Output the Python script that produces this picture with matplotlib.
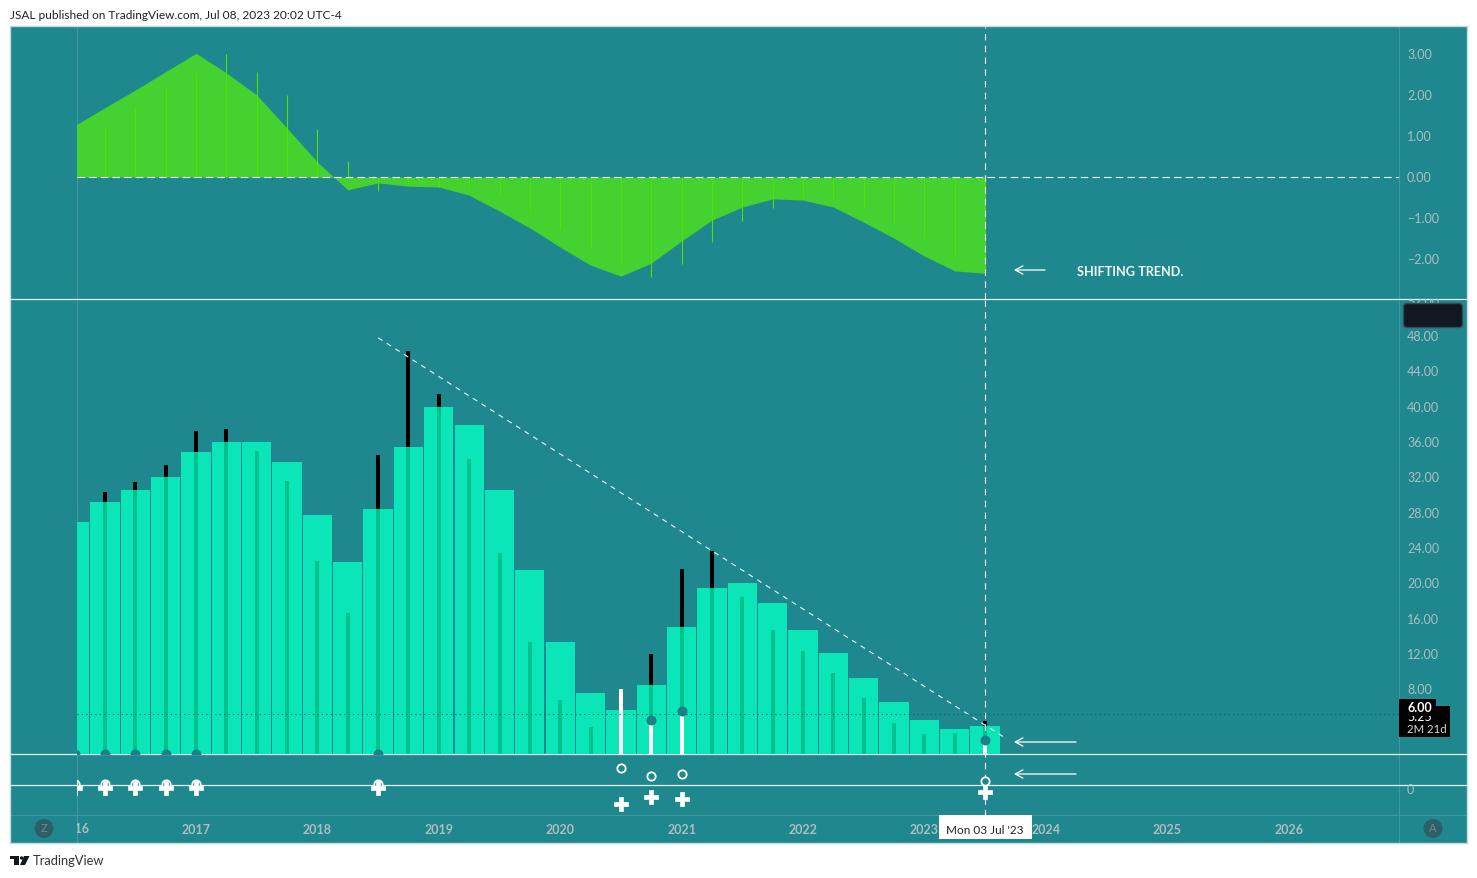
import matplotlib
matplotlib.use("Agg")
import matplotlib.pyplot as plt
from matplotlib.patches import Rectangle, Circle, Polygon, FancyBboxPatch
from matplotlib.transforms import Bbox, ScaledTranslation

plt.rcParams['font.family'] = ['Lato', 'DejaVu Sans']

W, H = 1477, 879
SHIFT = 1  # panes and labels sat one pixel too high

BG = "#1f888e"
BAR = "#0ae6b8"
STEM = "#00c28f"
AREA = "#45d12f"
LIME = "#4fe300"
DOT = "#1f7f86"
TICK = "#aebdc1"
FAINT = "#3f9a9f"

# quarterly bars, index 0 = Q1 2016
quarters = list(range(31))

osc_area = [1.26, 1.70, 2.13, 2.58, 3.03, 2.55, 2.01, 1.20, 0.37, -0.31, -0.14,
            -0.22, -0.24, -0.44, -0.83, -1.24, -1.71, -2.15, -2.42, -2.10, -1.56,
            -1.05, -0.73, -0.53, -0.56, -0.73, -1.10, -1.49, -1.93, -2.29, -2.35]
osc_stems = [0.83, 1.23, 1.69, 2.16, 2.57, 3.01, 2.57, 2.01, 1.18, 0.40, -0.34,
             -0.17, -0.24, -0.24, -0.44, -0.83, -1.27, -1.71, -2.15, -2.44, -2.12,
             -1.58, -1.07, -0.75, -0.53, -0.56, -0.73, -1.10, -1.51, -1.93, -2.34]

bars = [27.0, 29.2, 30.6, 32.1, 34.9, 36.0, 36.0, 33.7, 27.7, 22.4, 28.4,
        35.4, 40.0, 37.9, 30.6, 21.5, 13.4, 7.6, 5.7, 8.5, 15.1,
        19.5, 20.0, 17.8, 14.7, 12.1, 9.3, 6.6, 4.5, 3.5, 3.9]
stems = [29.0, 30.4, 31.5, 33.4, 37.3, 37.5, 35.0, 31.6, 22.5, 16.7, 34.5,
         46.3, 41.4, 34.1, 23.5, 13.4, 6.8, 3.7, 0.0, 12.0, 21.6,
         23.7, 18.5, 14.7, 12.4, 9.9, 7.0, 4.2, 3.0, 3.1, 4.4]

white_idx = [18, 19, 20, 30]
white_vals = [8.0, 4.5, 5.6, 2.3]
dot_idx = [0, 1, 2, 3, 4, 10, 19, 20, 30]
dot_vals = [0.7, 0.7, 0.7, 0.7, 0.7, 0.7, 4.5, 5.6, 2.3]

trend_x = [10, 30.6]
trend_y = [47.8, 2.65]
last_level = 5.2

ring_idx = [0, 1, 2, 3, 4, 10, 18, 19, 20, 30]
ring_vals = [1.5, 1.5, 1.5, 1.5, 1.5, 1.5, 17.5, 9.5, 11.5, 4.5]
cross_vals = [-2.5, -2.5, -2.5, -2.5, -2.5, -2.5, -18.5, -11.5, -13.5, -6.5]

osc_ticks = [3, 2, 1, 0, -1, -2]
main_ticks = list(range(8, 56, 4))
year_ticks = [4, 8, 12, 16, 20, 24, 28, 32, 36, 40]
year_labels = ["2017", "2018", "2019", "2020", "2021", "2022", "2023", "2024", "2025", "2026"]

X0_PX = 74.6
STEP_PX = 30.35


def to_idx(px):
    return (px - X0_PX) / STEP_PX


def pane(top, bottom, left=77, right=1399, z=2):
    ax = fig.add_axes([left / W, 1 - (bottom + SHIFT) / H, (right - left) / W, (bottom - top) / H], zorder=z)
    ax.patch.set_visible(False)
    for s in ax.spines.values():
        s.set_visible(False)
    ax.set_xlim(to_idx(left), to_idx(right))
    ax.set_xticks([])
    ax.yaxis.tick_right()
    ax.tick_params(axis="y", length=0, pad=5.8, labelsize=9, labelcolor=TICK)
    return ax


def nudge(ax, dy_px):
    for lbl in ax.get_yticklabels():
        lbl.set_transform(lbl.get_transform() + ScaledTranslation(0, dy_px / 100, fig.dpi_scale_trans))


fig = plt.figure(figsize=(W / 100, H / 100), dpi=100, facecolor="white")

# chart background
base = fig.add_axes([10 / W, 1 - 844 / H, 1457 / W, 817 / H], zorder=0)
base.set_xlim(10, 1467)
base.set_ylim(844, 27)
base.set_facecolor(BG)
base.set_xticks([])
base.set_yticks([])
for s in base.spines.values():
    s.set_color("#c3dadc")
    s.set_linewidth(1.0)
base.plot([77, 77], [27, 844], color=FAINT, lw=0.8)
base.plot([1399, 1399], [27, 844], color=FAINT, lw=0.8)
base.plot([10, 1467], [816, 816], color=FAINT, lw=0.8)
base.plot([10, 1467], [785.5, 785.5], color="#e6f2f2", lw=0.9)
base.plot([10, 1467], [299.5, 299.5], color="#e6f2f2", lw=0.9)
base.plot([10, 1467], [754.5, 754.5], color="#e6f2f2", lw=0.9)

# oscillator pane
ax_osc = pane(27, 299)
ax_osc.set_ylim(-2.978, 3.672)
ax_osc.fill_between(quarters, osc_area, 0, color=AREA, lw=0, zorder=2)
ax_osc.vlines(quarters, 0, osc_stems, color=LIME, lw=0.8, zorder=3)
ax_osc.axhline(0, color="white", lw=0.8, dashes=(6.7, 3.8), zorder=4)
ax_osc.axvline(30, color="white", lw=0.8, dashes=(5.8, 4.8), zorder=4)
ax_osc.set_yticks(osc_ticks)
ax_osc.set_yticklabels(["3.00", "2.00", "1.00", "0.00", "\u22121.00", "\u22122.00"])
nudge(ax_osc, 1)

# main pane
ax_main = pane(299, 754)
ax_main.set_ylim(0.70, 52.19)
ax_main.bar(quarters, bars, width=0.965, color=BAR, lw=0, zorder=2)
for q, b, s in zip(quarters, bars, stems):
    ax_main.plot([q, q], [0, min(b, s)], color=STEM, lw=2.9, solid_capstyle="butt", zorder=3)
    if s > b:
        ax_main.plot([q, q], [b, s], color="black", lw=2.9, solid_capstyle="butt", zorder=3)
ax_main.axvline(30, color="white", lw=0.8, dashes=(5.8, 4.8), zorder=3.5)
ax_main.vlines(white_idx, 0, white_vals, color="white", lw=2.9, zorder=4)
ax_main.plot(dot_idx, dot_vals, "o", color=DOT, ms=7.2, mew=0, zorder=5)
ax_main.plot(trend_x, trend_y, color="#e8f6f4", lw=0.8, dashes=(4.6, 4.6), zorder=6)
ax_main.axhline(last_level, color="#145a5e", lw=0.8, dashes=(1, 3), zorder=6)
ax_main.set_yticks(main_ticks)
ax_main.set_yticklabels(["%.2f" % t for t in main_ticks])
nudge(ax_main, 1)
for lbl in ax_main.get_yticklabels():
    lbl.set_clip_box(Bbox.from_extents(1399, H - 844, 1467, H - 299 - SHIFT))
    lbl.set_clip_on(True)

# lower pane
ax_low = pane(754, 816)
ax_low.set_ylim(-30.5, 31.5)
ax_low.axvline(30, color="white", lw=0.8, dashes=(5.8, 4.8), zorder=2)
ax_low.plot(ring_idx, ring_vals, "o", mfc=BG, mec="white", mew=1.3, ms=6.0, ls="none", zorder=3)
ax_low.plot(ring_idx, cross_vals, "P", color="white", mec="white", mew=0.5, ms=9.6, ls="none", zorder=4)
ax_low.set_yticks([0])
ax_low.set_yticklabels(["0"])
nudge(ax_low, -2.5)
ax_low.set_xticks(year_ticks)
ax_low.set_xticklabels(year_labels, fontweight="bold")
ax_low.tick_params(axis="x", length=0, pad=5.0, labelsize=9, labelcolor=TICK)

# everything drawn in screen pixels on top of the panes
ov = fig.add_axes([0, 0, 1, 1], zorder=10)
ov.set_xlim(0, W)
ov.set_ylim(H - SHIFT, -SHIFT)
ov.axis("off")

for x0, x1, y in ((1045, 1014, 270), (1076, 1014, 742), (1076, 1014, 774)):
    ov.annotate("", xy=(x1, y), xytext=(x0, y),
                arrowprops=dict(arrowstyle="->,head_length=0.55,head_width=0.3", color="white", lw=0.9,
                                shrinkA=0, shrinkB=0))

ov.text(1077, 271, "SHIFTING TREND.", color="#eef8f6", fontsize=9.1, fontweight="bold",
        va="center", ha="left")

ov.text(10, 14.5, "JSAL published on TradingView.com, Jul 08, 2023 20:02 UTC-4",
        color="#222", fontsize=8.6, va="center", ha="left")

# clipped first year label
first_year = ov.text(X0_PX, 828.5, "2016", color=TICK, fontsize=9, fontweight="bold", ha="center", va="center")
first_year.set_clip_box(Bbox.from_extents(77, 0, 1399, H))
first_year.set_clip_on(True)

# price tags
ov.add_patch(Rectangle((1399, 706), 51, 31, color="black", lw=0, zorder=5))
ov.text(1407, 716, "5.25", color="white", fontsize=9, va="center", zorder=6)
ov.text(1407, 729, "2M 21d", color="#d8d8d8", fontsize=8.2, va="center", zorder=6)
ov.add_patch(Rectangle((1399, 699), 37, 17, color="black", lw=0, zorder=7))
ov.text(1407, 707, "6.00", color="white", fontsize=9, fontweight="bold", va="center", zorder=8)

# dark box over the top price label
ov.add_patch(FancyBboxPatch((1406, 306), 54, 19, boxstyle="round,pad=2.5,rounding_size=3",
                            fc="#131722", ec="#3a4a55", lw=1, zorder=7))

# crosshair date label
ov.add_patch(Rectangle((939, 815), 93, 24, color="white", lw=0, zorder=5))
ov.text(985, 829.5, "Mon 03 Jul '23", color="#222", fontsize=8.5, ha="center", va="center", zorder=6)

# Z and A buttons
for cx, ch in ((44, "Z"), (1433, "A")):
    ov.add_patch(Circle((cx, 828.5), 9.5, color="#2c5f68", lw=0))
    ov.text(cx, 828, ch, color="#6f8a90", fontsize=8, ha="center", va="center")

# logo
ov.add_patch(Polygon([(10, 856), (19, 856), (19, 865), (14, 865), (14, 859.5), (10, 859.5)], color="#131722", lw=0))
ov.add_patch(Circle((21.6, 858), 1.7, color="#131722", lw=0))
ov.add_patch(Polygon([(24, 856), (29.5, 856), (25, 865), (20, 865)], color="#131722", lw=0))
ov.text(33, 860.5, "TradingView", color="#333", fontsize=9.3, va="center", ha="left")

fig.savefig("out.png", dpi=100)
